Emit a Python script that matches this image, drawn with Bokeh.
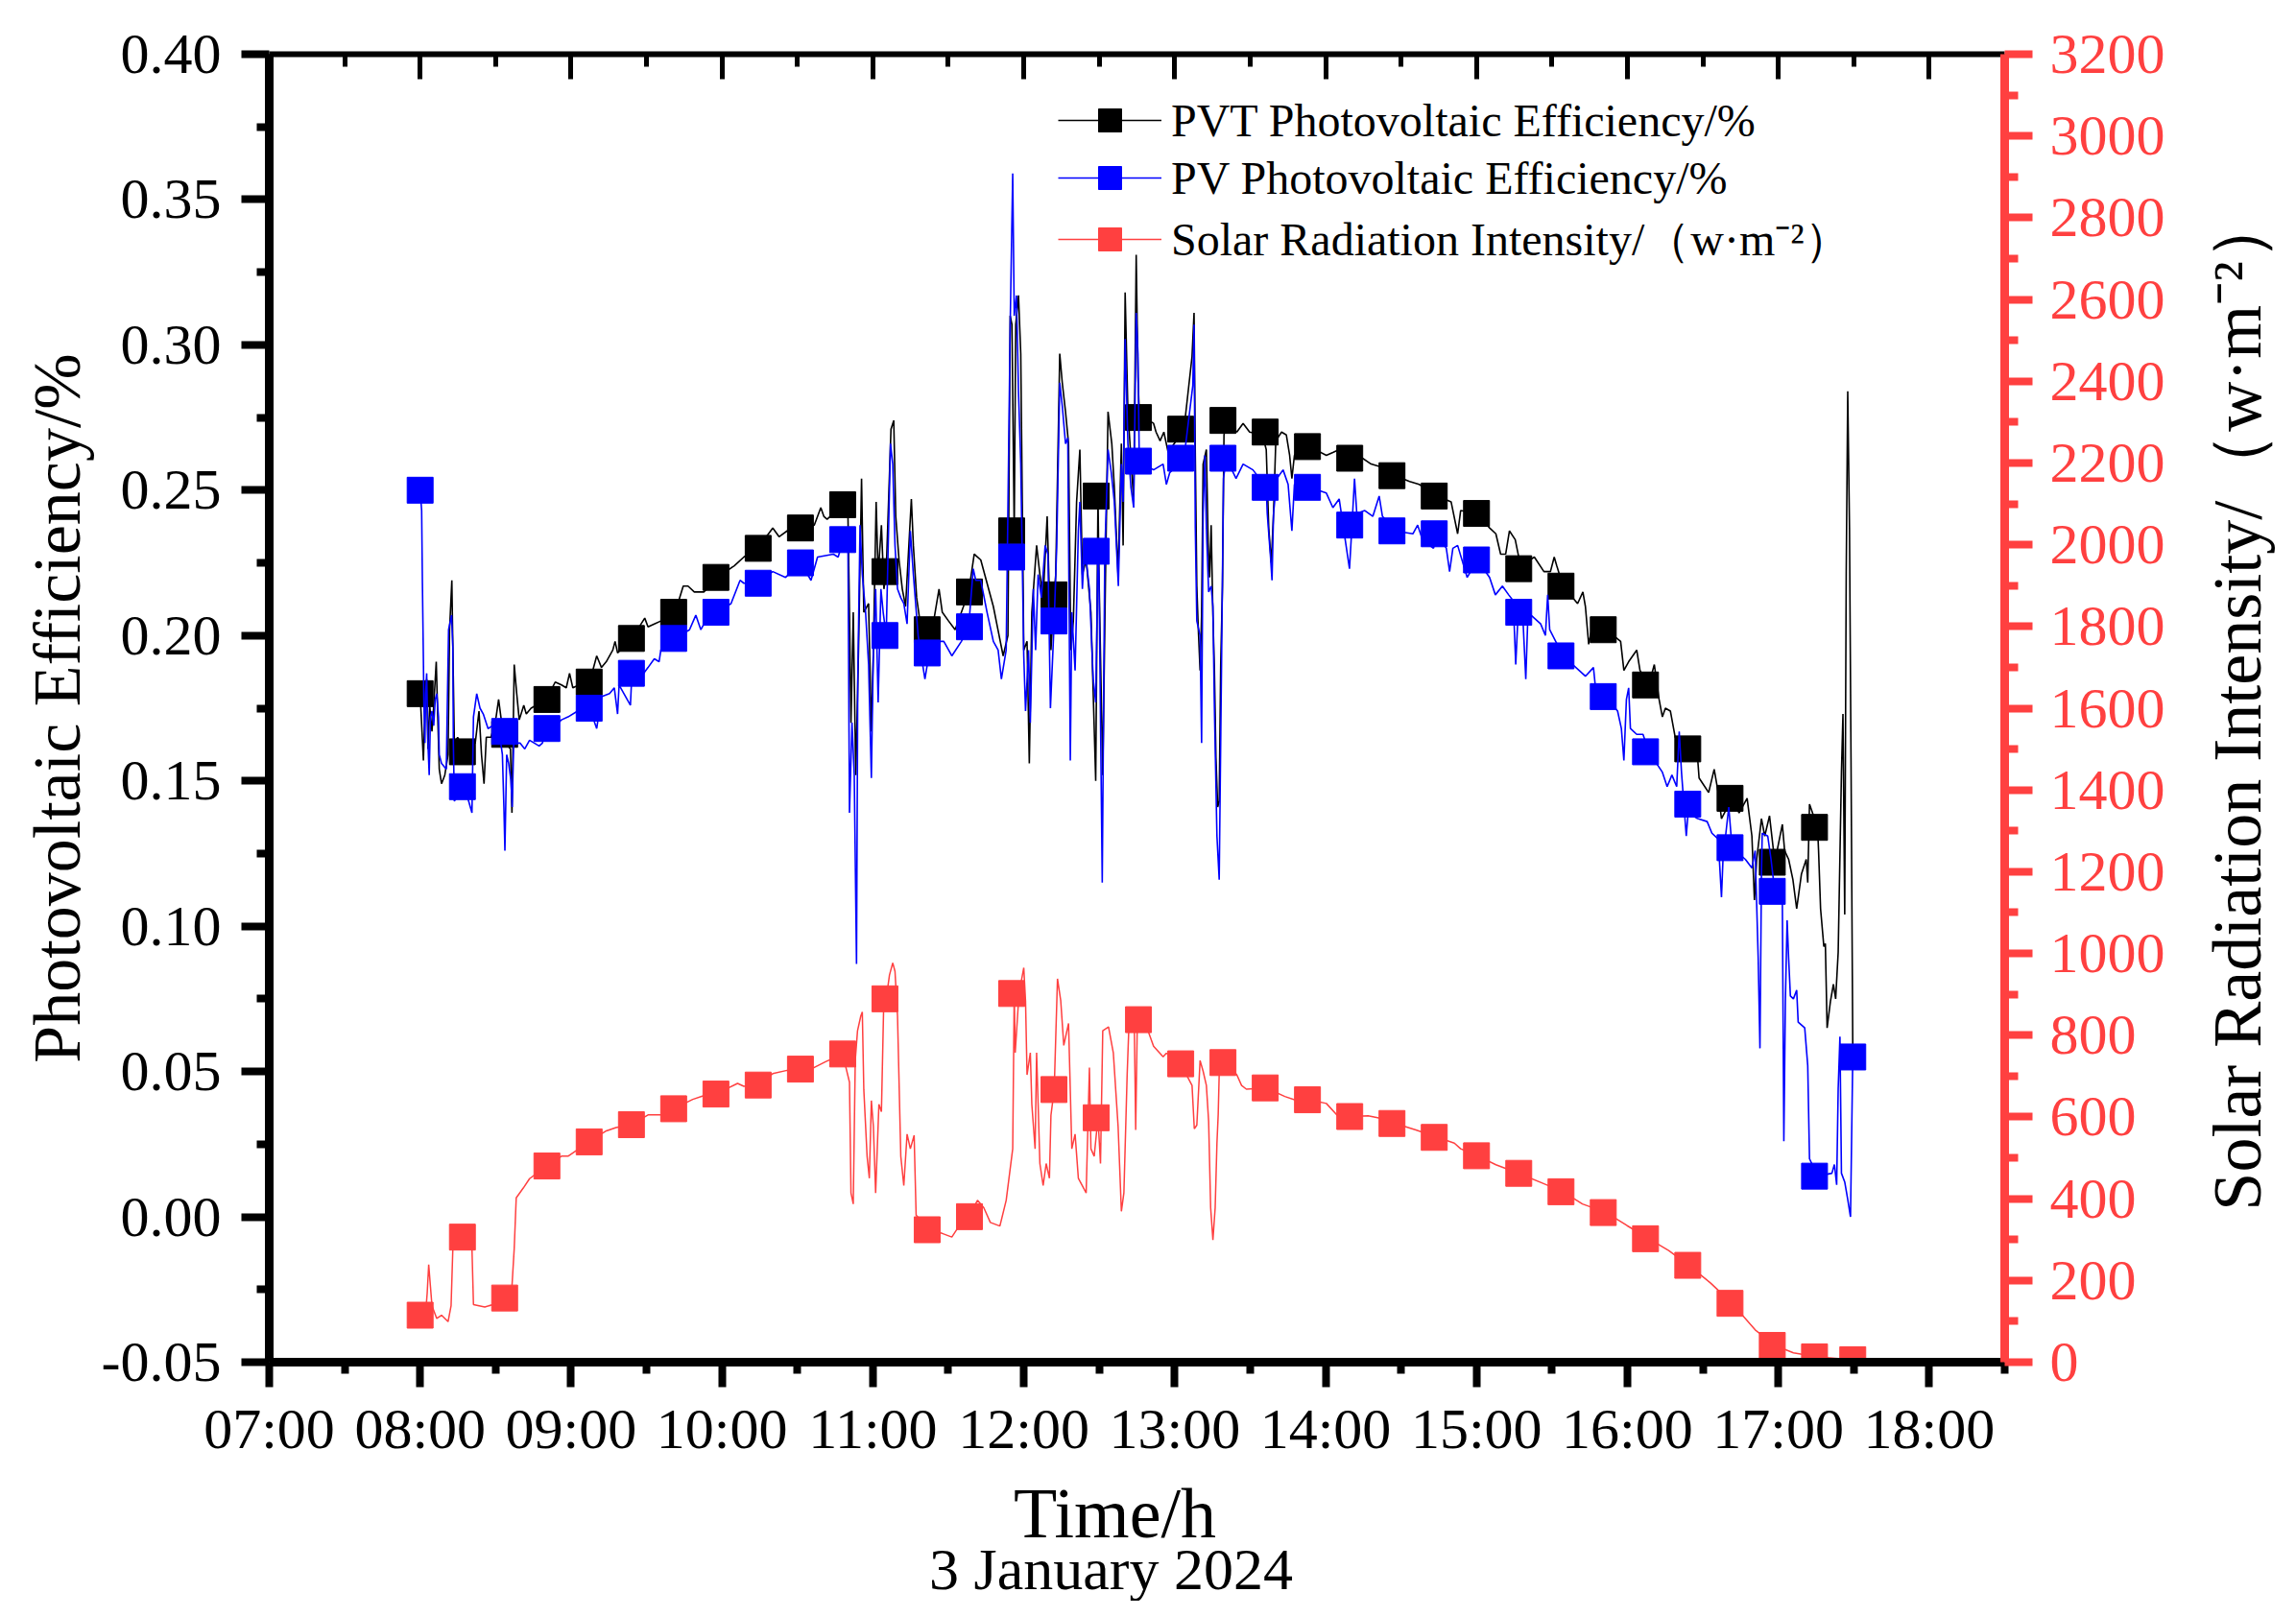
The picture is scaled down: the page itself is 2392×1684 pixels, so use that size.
import math
from bokeh.plotting import figure
from bokeh.layouts import column, row
from bokeh.models import (Range1d, LinearAxis, FixedTicker, PrintfTickFormatter,
                          Legend, LegendItem)
from bokeh.core.properties import value
from bokeh.embed import file_html
from bokeh.resources import INLINE

# ---------------- data (time = minutes after 08:00) ----------------
marker_min = [0.0, 16.8, 33.6, 50.4, 67.2, 84.0, 100.8, 117.6, 134.4, 151.2, 168.0,
              184.8, 201.6, 218.4, 235.2, 252.0, 268.8, 285.6, 302.4, 319.2, 336.0,
              352.8, 369.6, 386.4, 403.2, 420.0, 436.8, 453.6, 470.4, 487.2, 504.0,
              520.8, 537.6, 554.4, 569.6]
pvt_marker = [0.180, 0.160, 0.166, 0.178, 0.184, 0.199, 0.208, 0.220, 0.230, 0.237, 0.245,
              0.222, 0.202, 0.215, 0.236, 0.214, 0.248, 0.275, 0.271, 0.274, 0.270,
              0.265, 0.261, 0.255, 0.248, 0.242, 0.223, 0.217, 0.202, 0.183, 0.161,
              0.144, 0.122, 0.134]
pv_marker = [0.250, 0.148, 0.167, 0.168, 0.175, 0.187, 0.199, 0.208, 0.218, 0.225, 0.233,
             0.200, 0.194, 0.203, 0.227, 0.205, 0.229, 0.260, 0.261, 0.261, 0.251,
             0.251, 0.238, 0.236, 0.235, 0.226, 0.208, 0.193, 0.179, 0.160, 0.142,
             0.127, 0.112, 0.014, 0.055]
rad_marker = [115, 306, 157, 480, 539, 581, 620, 656, 678, 717, 754,
              889, 324, 356, 902, 667, 598, 838, 730, 733, 671,
              642, 601, 584, 550, 505, 462, 417, 366, 302, 237,
              144, 41, 13, 6]

pvt_line = [(0.0, 0.180), (1.3, 0.157), (1.8, 0.172), (2.6, 0.185), (3.1, 0.161), (3.8, 0.176),
    (4.7, 0.167), (5.4, 0.176), (6.4, 0.191), (7.0, 0.172), (7.6, 0.154), (8.5, 0.149), (9.8, 0.152),
    (11.1, 0.159), (11.7, 0.202), (12.6, 0.219), (13.0, 0.196), (13.6, 0.163), (14.9, 0.165),
    (16.8, 0.162), (20.6, 0.163), (21.9, 0.163), (23.4, 0.174), (24.4, 0.159), (25.4, 0.149),
    (26.3, 0.165), (28.2, 0.165), (30.2, 0.172), (31.2, 0.178), (32.1, 0.172), (34.0, 0.163),
    (35.9, 0.161), (36.5, 0.139), (37.4, 0.190), (38.4, 0.180), (39.4, 0.171), (41.2, 0.176),
    (42.2, 0.173), (44.1, 0.175), (46.1, 0.176), (50.2, 0.178), (53.7, 0.184), (56.2, 0.183),
    (58.1, 0.182), (59.4, 0.187), (60.7, 0.182), (63.2, 0.183), (67.4, 0.184), (70.2, 0.193),
    (72.1, 0.189), (74.0, 0.191), (76.6, 0.195), (77.5, 0.198), (78.5, 0.194), (84.2, 0.199),
    (89.3, 0.206), (90.6, 0.203), (93.1, 0.204), (95.7, 0.205), (101.4, 0.208), (104.6, 0.217),
    (106.5, 0.217), (109.0, 0.215), (112.8, 0.215), (118.2, 0.220), (124.9, 0.224), (128.7, 0.227),
    (134.2, 0.230), (140.2, 0.237), (142.7, 0.234), (145.9, 0.236), (151.4, 0.237), (156.7, 0.238),
    (159.3, 0.244), (160.5, 0.241), (161.8, 0.240), (168.2, 0.245), (170.1, 0.241), (170.7, 0.208),
    (171.3, 0.170), (172.2, 0.208), (173.2, 0.152), (174.3, 0.195), (175.5, 0.254), (176.4, 0.208),
    (178.3, 0.211), (179.4, 0.167), (180.2, 0.195), (181.3, 0.246), (182.1, 0.221), (183.4, 0.238),
    (184.4, 0.216), (185.3, 0.222), (187.2, 0.271), (188.3, 0.274), (189.1, 0.241), (190.4, 0.226),
    (191.7, 0.216), (193.0, 0.210), (195.3, 0.247), (196.1, 0.231), (197.4, 0.213), (198.7, 0.205),
    (202.2, 0.202), (203.8, 0.203), (206.3, 0.216), (207.6, 0.208), (210.1, 0.205), (212.7, 0.202),
    (218.1, 0.215), (220.3, 0.228), (222.9, 0.226), (225.4, 0.218), (227.9, 0.210), (229.5, 0.203),
    (231.8, 0.193), (233.7, 0.200), (234.6, 0.310), (235.3, 0.307), (236.2, 0.236), (236.8, 0.307),
    (237.9, 0.317), (238.8, 0.297), (239.4, 0.246), (240.0, 0.195), (241.3, 0.198), (242.2, 0.156),
    (243.2, 0.208), (245.1, 0.231), (246.4, 0.221), (247.7, 0.213), (249.3, 0.241), (250.8, 0.195),
    (252.1, 0.214), (252.7, 0.221), (254.3, 0.297), (255.3, 0.287), (256.6, 0.277), (257.8, 0.266),
    (258.7, 0.195), (259.7, 0.205), (261.0, 0.246), (262.3, 0.264), (263.3, 0.221), (264.8, 0.226),
    (266.7, 0.208), (268.6, 0.150), (269.5, 0.248), (269.9, 0.221), (271.4, 0.152), (272.5, 0.221),
    (273.5, 0.277), (275.0, 0.266), (276.0, 0.251), (277.5, 0.221), (278.8, 0.266), (279.5, 0.231),
    (280.3, 0.318), (281.4, 0.277), (282.6, 0.261), (283.7, 0.246), (284.7, 0.331), (285.4, 0.289),
    (285.9, 0.277), (287.8, 0.275), (291.6, 0.273), (292.6, 0.270), (294.2, 0.267), (295.7, 0.270),
    (297.4, 0.263), (303.7, 0.271), (306.9, 0.296), (307.7, 0.311), (308.2, 0.262), (308.8, 0.217),
    (309.4, 0.202), (310.1, 0.188), (310.7, 0.207), (311.3, 0.259), (312.6, 0.264), (313.3, 0.232),
    (313.9, 0.220), (314.5, 0.238), (315.2, 0.207), (315.8, 0.188), (316.4, 0.158), (317.1, 0.141),
    (317.7, 0.143), (318.3, 0.190), (319.0, 0.217), (319.6, 0.269), (320.5, 0.274), (324.7, 0.270),
    (327.2, 0.273), (329.8, 0.270), (334.9, 0.269), (336.4, 0.264), (337.4, 0.237), (338.4, 0.225),
    (339.3, 0.242), (340.2, 0.267), (342.5, 0.270), (344.4, 0.269), (345.7, 0.262), (346.6, 0.254),
    (347.6, 0.262), (353.6, 0.265), (360.3, 0.262), (362.9, 0.263), (365.4, 0.264), (370.5, 0.261),
    (373.0, 0.262), (378.1, 0.259), (381.9, 0.258), (387.7, 0.255), (393.4, 0.253), (397.2, 0.252),
    (404.5, 0.248), (409.9, 0.246), (412.5, 0.235), (413.7, 0.243), (420.4, 0.242), (425.2, 0.237),
    (427.7, 0.235), (429.6, 0.228), (431.6, 0.228), (433.1, 0.236), (435.4, 0.233), (437.5, 0.224),
    (443.0, 0.227), (446.8, 0.222), (449.4, 0.222), (450.9, 0.227), (451.9, 0.224), (454.4, 0.217),
    (460.2, 0.211), (462.3, 0.215), (463.3, 0.210), (464.6, 0.197), (466.5, 0.205), (471.6, 0.202),
    (477.3, 0.198), (478.6, 0.188), (480.5, 0.191), (483.7, 0.195), (485.0, 0.188), (488.5, 0.183),
    (490.7, 0.190), (492.6, 0.178), (493.9, 0.172), (495.1, 0.175), (497.1, 0.174), (499.0, 0.165),
    (504.4, 0.161), (507.9, 0.158), (508.5, 0.151), (512.3, 0.146), (514.5, 0.154), (516.1, 0.146),
    (517.4, 0.137), (521.6, 0.144), (524.4, 0.139), (527.6, 0.144), (529.5, 0.131), (530.5, 0.109),
    (531.4, 0.123), (533.3, 0.137), (534.6, 0.131), (536.5, 0.138), (538.6, 0.122), (541.6, 0.135),
    (542.5, 0.126), (544.1, 0.123), (545.8, 0.116), (547.3, 0.106), (549.2, 0.118), (551.1, 0.123),
    (551.7, 0.115), (552.4, 0.142), (555.6, 0.134), (556.0, 0.126), (556.8, 0.106), (558.1, 0.093),
    (558.7, 0.094), (559.4, 0.065), (560.7, 0.074), (561.9, 0.080), (562.8, 0.075), (563.8, 0.091),
    (565.1, 0.153), (565.7, 0.173), (566.4, 0.104), (567.0, 0.222), (567.6, 0.284), (568.3, 0.237),
    (568.9, 0.158), (569.6, 0.059)]

pv_line = [(0.0, 0.250), (0.6, 0.243), (0.9, 0.218), (1.3, 0.191), (1.5, 0.176), (1.9, 0.163),
    (2.2, 0.180), (2.6, 0.187), (3.1, 0.163), (3.6, 0.152), (4.1, 0.172), (4.7, 0.174), (5.4, 0.169),
    (6.0, 0.178), (6.6, 0.180), (7.3, 0.172), (7.6, 0.159), (8.5, 0.156), (10.4, 0.154), (10.8, 0.176),
    (11.3, 0.202), (12.5, 0.207), (13.0, 0.196), (13.2, 0.163), (13.6, 0.143), (17.4, 0.148),
    (19.3, 0.143), (20.6, 0.139), (21.2, 0.172), (22.5, 0.180), (23.8, 0.175), (25.1, 0.173),
    (27.0, 0.168), (28.9, 0.169), (31.4, 0.167), (32.7, 0.159), (33.3, 0.141), (33.7, 0.126),
    (34.4, 0.159), (35.2, 0.156), (36.1, 0.150), (36.6, 0.141), (37.2, 0.163), (39.7, 0.163),
    (41.6, 0.161), (43.5, 0.164), (47.3, 0.162), (48.6, 0.163), (50.2, 0.168), (53.7, 0.169),
    (56.2, 0.171), (58.8, 0.172), (62.6, 0.174), (67.4, 0.175), (70.2, 0.168), (72.1, 0.179),
    (75.3, 0.180), (77.2, 0.182), (78.5, 0.173), (79.1, 0.183), (83.6, 0.176), (84.2, 0.187),
    (85.5, 0.183), (90.6, 0.189), (93.1, 0.192), (95.0, 0.191), (95.7, 0.195), (101.4, 0.199),
    (107.1, 0.202), (109.6, 0.207), (111.6, 0.202), (113.5, 0.205), (118.2, 0.208), (123.6, 0.211),
    (127.2, 0.219), (128.7, 0.218), (134.2, 0.218), (140.2, 0.222), (145.3, 0.220), (151.4, 0.225),
    (155.4, 0.219), (158.0, 0.227), (164.3, 0.228), (166.2, 0.227), (168.2, 0.233), (170.1, 0.231),
    (170.7, 0.139), (171.7, 0.170), (172.6, 0.152), (173.5, 0.087), (174.0, 0.185), (174.9, 0.238),
    (175.8, 0.221), (177.1, 0.208), (178.3, 0.190), (179.4, 0.151), (180.2, 0.195), (181.1, 0.216),
    (182.1, 0.177), (183.2, 0.216), (184.1, 0.208), (185.3, 0.200), (187.0, 0.266), (187.9, 0.259),
    (188.8, 0.231), (189.8, 0.216), (191.1, 0.213), (192.3, 0.211), (193.6, 0.204), (194.9, 0.236),
    (196.1, 0.221), (198.0, 0.200), (200.7, 0.185), (202.2, 0.193), (205.0, 0.198), (208.2, 0.198),
    (211.4, 0.193), (215.2, 0.198), (218.1, 0.203), (219.9, 0.223), (220.9, 0.219), (222.9, 0.219),
    (225.4, 0.208), (227.9, 0.198), (229.8, 0.195), (231.1, 0.185), (233.0, 0.195), (234.6, 0.307),
    (235.6, 0.359), (236.2, 0.310), (237.1, 0.317), (237.9, 0.284), (238.8, 0.259), (240.0, 0.193),
    (240.7, 0.174), (241.9, 0.195), (242.6, 0.170), (243.8, 0.216), (244.7, 0.195), (245.7, 0.221),
    (247.0, 0.213), (248.5, 0.231), (249.6, 0.228), (250.6, 0.175), (252.1, 0.205), (253.1, 0.231),
    (254.3, 0.287), (255.3, 0.279), (256.6, 0.266), (257.5, 0.268), (258.5, 0.157), (259.1, 0.208),
    (260.4, 0.188), (261.7, 0.236), (262.3, 0.246), (263.3, 0.216), (264.2, 0.231), (266.1, 0.216),
    (267.6, 0.185), (268.6, 0.177), (269.5, 0.229), (269.9, 0.221), (271.2, 0.115), (272.2, 0.228),
    (273.5, 0.264), (274.8, 0.256), (276.0, 0.246), (277.6, 0.217), (278.8, 0.259), (279.5, 0.246),
    (280.3, 0.302), (281.4, 0.266), (282.6, 0.251), (283.7, 0.244), (284.7, 0.311), (285.4, 0.297),
    (285.9, 0.262), (287.8, 0.259), (291.6, 0.257), (293.5, 0.258), (295.4, 0.259), (296.7, 0.252),
    (298.0, 0.256), (303.7, 0.261), (307.2, 0.286), (307.7, 0.307), (308.2, 0.237), (308.8, 0.205),
    (310.1, 0.200), (310.7, 0.163), (311.3, 0.242), (312.0, 0.262), (312.6, 0.237), (313.5, 0.215),
    (314.5, 0.217), (315.2, 0.210), (315.8, 0.175), (316.8, 0.131), (317.7, 0.116), (318.6, 0.188),
    (319.4, 0.254), (320.5, 0.261), (324.4, 0.254), (327.2, 0.259), (331.1, 0.257), (336.4, 0.251),
    (336.8, 0.242), (338.1, 0.227), (338.7, 0.219), (339.3, 0.242), (340.6, 0.254), (343.1, 0.257),
    (345.1, 0.252), (346.6, 0.236), (347.6, 0.252), (353.6, 0.251), (360.3, 0.249), (362.9, 0.244),
    (365.4, 0.247), (369.5, 0.223), (370.5, 0.238), (371.5, 0.254), (372.4, 0.242), (375.6, 0.243),
    (378.8, 0.241), (381.3, 0.248), (382.6, 0.241), (387.7, 0.236), (394.7, 0.235), (396.6, 0.238),
    (398.5, 0.233), (402.9, 0.230), (404.5, 0.235), (408.0, 0.230), (409.3, 0.222), (410.6, 0.230),
    (412.5, 0.231), (416.3, 0.220), (420.4, 0.226), (425.2, 0.220), (427.5, 0.214), (430.3, 0.217),
    (432.8, 0.214), (434.6, 0.212), (435.6, 0.190), (436.4, 0.205), (437.5, 0.208), (438.5, 0.205),
    (439.6, 0.185), (440.4, 0.206), (441.7, 0.207), (445.5, 0.204), (447.4, 0.200), (448.3, 0.214),
    (449.1, 0.202), (454.4, 0.193), (460.8, 0.188), (463.3, 0.186), (466.5, 0.189), (467.2, 0.183),
    (471.6, 0.179), (476.1, 0.174), (477.6, 0.168), (478.6, 0.157), (479.6, 0.178), (480.5, 0.182),
    (481.2, 0.168), (483.7, 0.166), (486.2, 0.166), (488.5, 0.160), (493.9, 0.153), (495.8, 0.148),
    (497.7, 0.152), (499.6, 0.148), (500.6, 0.167), (501.5, 0.153), (503.4, 0.131), (504.4, 0.142),
    (506.0, 0.138), (507.9, 0.137), (511.7, 0.136), (513.6, 0.132), (516.1, 0.130), (517.4, 0.110),
    (518.0, 0.123), (520.3, 0.141), (521.6, 0.127), (526.9, 0.123), (529.5, 0.120), (530.8, 0.126),
    (532.0, 0.089), (532.7, 0.058), (533.3, 0.118), (533.6, 0.132), (535.8, 0.131), (537.1, 0.123),
    (538.6, 0.112), (541.6, 0.109), (542.2, 0.026), (542.8, 0.074), (543.5, 0.102), (544.1, 0.089),
    (544.8, 0.076), (546.0, 0.075), (547.3, 0.078), (547.9, 0.067), (550.5, 0.065), (551.7, 0.052),
    (552.4, 0.020), (555.6, 0.014), (561.3, 0.015), (562.3, 0.018), (563.2, 0.011), (563.8, 0.044),
    (564.5, 0.062), (565.1, 0.015), (566.4, 0.012), (567.6, 0.006), (568.7, 0.000), (569.6, 0.055)]

rad_line = [(0.0, 115), (2.2, 122), (2.8, 169), (3.4, 239), (4.1, 185), (4.7, 138), (6.6, 107),
    (8.5, 115), (11.1, 99), (12.3, 138), (13.0, 278), (13.6, 301), (16.8, 306), (20.0, 301),
    (20.6, 278), (21.2, 141), (25.7, 135), (28.9, 141), (33.6, 157), (36.5, 185), (37.4, 278),
    (38.2, 402), (41.0, 426), (43.5, 449), (50.4, 480), (56.2, 504), (58.8, 504), (67.2, 539),
    (74.0, 566), (77.9, 574), (84.0, 581), (90.6, 605), (95.7, 605), (100.8, 620), (108.4, 643),
    (112.2, 651), (117.6, 656), (126.2, 682), (128.7, 675), (134.4, 678), (140.2, 706), (145.9, 714),
    (151.2, 717), (156.7, 721), (161.2, 735), (168.0, 754), (170.7, 685), (171.3, 414), (172.2, 387),
    (173.0, 739), (173.9, 811), (175.2, 847), (175.8, 857), (176.4, 667), (177.7, 504), (178.6, 450),
    (179.4, 640), (180.2, 577), (181.1, 414), (182.4, 631), (183.4, 613), (184.4, 902), (185.3, 889),
    (186.6, 947), (187.9, 977), (188.8, 956), (189.8, 847), (191.1, 504), (192.3, 432), (193.6, 558),
    (194.9, 522), (196.4, 555), (197.2, 360), (202.2, 324), (207.6, 315), (211.4, 306), (215.2, 342),
    (218.1, 356), (221.6, 396), (224.1, 378), (226.7, 342), (230.5, 333), (233.0, 396), (235.6, 522),
    (236.2, 902), (236.6, 757), (238.1, 902), (240.0, 965), (240.7, 884), (241.3, 703), (242.6, 757),
    (243.2, 631), (244.5, 522), (245.1, 757), (246.4, 486), (247.7, 432), (248.9, 486), (250.2, 450),
    (250.8, 604), (252.1, 667), (252.7, 793), (253.4, 938), (254.7, 884), (255.9, 775), (257.8, 829),
    (259.1, 522), (260.4, 558), (261.7, 450), (264.8, 414), (266.1, 721), (266.7, 522), (268.0, 504),
    (269.5, 598), (270.5, 486), (271.4, 811), (273.7, 820), (275.6, 757), (277.5, 577), (278.8, 369),
    (279.8, 414), (281.1, 703), (282.0, 857), (283.9, 847), (284.5, 568), (285.1, 817), (287.8, 838),
    (291.6, 773), (295.4, 747), (296.7, 756), (302.4, 730), (306.9, 677), (307.8, 571), (308.8, 580),
    (310.1, 738), (311.3, 712), (312.6, 677), (313.5, 589), (314.3, 378), (315.2, 299), (316.1, 378),
    (316.8, 536), (317.3, 606), (317.8, 730), (320.5, 733), (324.7, 703), (326.6, 677), (328.5, 668),
    (336.4, 671), (343.8, 650), (347.6, 642), (353.6, 642), (360.3, 633), (364.8, 603), (370.5, 601),
    (376.9, 603), (380.7, 598), (387.7, 584), (395.9, 568), (404.5, 550), (411.2, 536), (413.7, 522),
    (420.4, 505), (427.7, 483), (436.8, 462), (445.5, 440), (454.4, 417), (462.1, 387), (471.6, 366),
    (479.9, 334), (488.5, 302), (496.4, 273), (504.4, 237), (513.0, 194), (521.6, 144), (530.8, 79),
    (538.6, 41), (546.0, 23), (555.6, 13), (569.6, 6)]

hour_ticks = list(range(7, 19))
hour_labels = {h: "%02d:00" % h for h in hour_ticks}
eff_ticks = [-0.05, 0.0, 0.05, 0.10, 0.15, 0.20, 0.25, 0.30, 0.35, 0.40]
rad_ticks = list(range(0, 3201, 200))

x_title = "Time/h"
date_title = "3 January 2024"
y_title = "Photovoltaic Efficiency/%"
y2_title = "Solar Radiation Intensity/（w·m⁻²）"
series_names = ["PVT Photovoltaic Efficiency/%", "PV Photovoltaic Efficiency/%",
                "Solar Radiation Intensity/（w·m⁻²）"]

# ---------------- styling constants ----------------
FONT = "Liberation Serif"
RED = "#ff4040"
BLUE = "#0000ff"
BLACK = "#000000"

TOTAL_W, TOTAL_H = 2376, 1668
MAIN_W, MAIN_H = 2270, 1536
SIDE_W = TOTAL_W - MAIN_W
BOTTOM_H = TOTAL_H - MAIN_H


def to_hours(mins):
    return [8 + m / 60.0 for m in mins]


def split(pairs):
    return to_hours([a for a, _ in pairs]), [b for _, b in pairs]


def blank_figure(w, h):
    f = figure(width=w, height=h, output_backend="svg", toolbar_location=None,
               x_range=Range1d(0, w), y_range=Range1d(0, h),
               x_axis_location=None, y_axis_location=None, min_border=0)
    f.outline_line_color = None
    f.xgrid.visible = False
    f.ygrid.visible = False
    return f


p = figure(width=MAIN_W, height=MAIN_H, output_backend="svg", toolbar_location=None,
           x_range=Range1d(7, 18.5), y_range=Range1d(-0.05, 0.40),
           x_axis_location=None, y_axis_location=None,
           min_border_left=280, min_border_top=56,
           min_border_right=MAIN_W - 280 - 1808, min_border_bottom=MAIN_H - 56 - 1363)
p.extra_y_ranges = {"rad": Range1d(0, 3200)}
p.outline_line_color = None
p.xgrid.visible = False
p.ygrid.visible = False

x_ticker = FixedTicker(ticks=hour_ticks, minor_ticks=[h + 0.5 for h in hour_ticks])

# bottom axis
xb = LinearAxis(ticker=x_ticker, major_label_overrides=hour_labels)
xb.axis_line_width = 9
xb.major_tick_line_width = 8
xb.minor_tick_line_width = 8
xb.major_tick_out = 26
xb.major_tick_in = 0
xb.minor_tick_out = 12
xb.minor_tick_in = 0
xb.major_label_standoff = 10
xb.major_label_text_font = FONT
xb.major_label_text_font_size = "60px"
xb.major_label_text_color = BLACK
p.add_layout(xb, "below")

# top axis (ticks inward, no labels)
xt = LinearAxis(ticker=x_ticker, major_label_overrides={h: "" for h in hour_ticks})
xt.axis_line_width = 6
xt.major_tick_line_width = 5
xt.minor_tick_line_width = 5
xt.major_tick_in = 26
xt.major_tick_out = 0
xt.minor_tick_in = 13
xt.minor_tick_out = 0
xt.major_label_text_font_size = "0px"
p.add_layout(xt, "above")

# left axis
yl = LinearAxis(ticker=FixedTicker(ticks=eff_ticks,
                                   minor_ticks=[t + 0.025 for t in eff_ticks[:-1]]),
                formatter=PrintfTickFormatter(format="%.2f"),
                axis_label=y_title)
yl.axis_line_width = 9
yl.major_tick_line_width = 8
yl.minor_tick_line_width = 8
yl.major_tick_out = 29
yl.major_tick_in = 0
yl.minor_tick_out = 13
yl.minor_tick_in = 0
yl.major_label_standoff = 21
yl.axis_label_standoff = 5
yl.major_label_text_font = FONT
yl.major_label_text_font_size = "60px"
yl.major_label_text_color = BLACK
yl.axis_label_text_font = FONT
yl.axis_label_text_font_size = "70px"
yl.axis_label_text_font_style = "normal"
yl.axis_label_text_color = BLACK
p.add_layout(yl, "left")

# right axis (red)
yr = LinearAxis(y_range_name="rad",
                ticker=FixedTicker(ticks=rad_ticks, minor_ticks=[t + 100 for t in rad_ticks[:-1]]),
                formatter=PrintfTickFormatter(format="%d"))
yr.axis_line_color = RED
yr.major_tick_line_color = RED
yr.minor_tick_line_color = RED
yr.major_label_text_color = RED
yr.axis_line_width = 9
yr.major_tick_line_width = 8
yr.minor_tick_line_width = 8
yr.major_tick_out = 29
yr.major_tick_in = 0
yr.minor_tick_out = 14
yr.minor_tick_in = 0
yr.major_label_standoff = 18
yr.major_label_text_font = FONT
yr.major_label_text_font_size = "60px"
p.add_layout(yr, "right")

# ---------------- series ----------------
mx = to_hours(marker_min)
x1, y1 = split(pvt_line)
x2, y2 = split(pv_line)
x3, y3 = split(rad_line)

l1 = p.line(x1, y1, line_color=BLACK, line_width=1.6)
s1 = p.scatter(mx[:len(pvt_marker)], pvt_marker, marker="square", size=27,
               fill_color=BLACK, line_color=BLACK)
l2 = p.line(x2, y2, line_color=BLUE, line_width=1.6)
s2 = p.scatter(mx[:len(pv_marker)], pv_marker, marker="square", size=27,
               fill_color=BLUE, line_color=BLUE)
l3 = p.line(x3, y3, line_color=RED, line_width=1.5, y_range_name="rad")
s3 = p.scatter(mx[:len(rad_marker)], rad_marker, marker="square", size=27,
               fill_color=RED, line_color=RED, y_range_name="rad")

legend = Legend(items=[
    LegendItem(label=series_names[0], renderers=[l1, s1]),
    LegendItem(label=series_names[1], renderers=[l2, s2]),
    LegendItem(label=series_names[2], renderers=[l3, s3]),
], location=(822, 1137))
legend.label_text_font = FONT
legend.label_text_font_size = "48px"
legend.label_text_color = BLACK
legend.glyph_width = 108
legend.glyph_height = 60
legend.label_height = 60
legend.spacing = 0
legend.padding = 0
legend.margin = 0
legend.label_standoff = 10
legend.border_line_color = None
legend.background_fill_alpha = 0
p.add_layout(legend, "center")

# right-hand title panel (reads bottom-to-top)
side = blank_figure(SIDE_W, MAIN_H)
side.text(x=[60], y=[MAIN_H - 760], text=[y2_title], angle=math.pi / 2,
          text_align="center", text_baseline="middle",
          text_font=value(FONT), text_font_size=value("72px"), text_color=BLACK)

# bottom title panel
bottom = blank_figure(TOTAL_W, BOTTOM_H)
bottom.text(x=[1161], y=[BOTTOM_H - 40], text=[x_title],
            text_align="center", text_baseline="middle",
            text_font=value(FONT), text_font_size=value("74px"), text_color=BLACK)
bottom.text(x=[1157], y=[BOTTOM_H - 98], text=[date_title],
            text_align="center", text_baseline="middle",
            text_font=value(FONT), text_font_size=value("62px"), text_color=BLACK)

layout = column(row(p, side), bottom)

with open("out.html", "w") as f:
    f.write(file_html(layout, INLINE))
